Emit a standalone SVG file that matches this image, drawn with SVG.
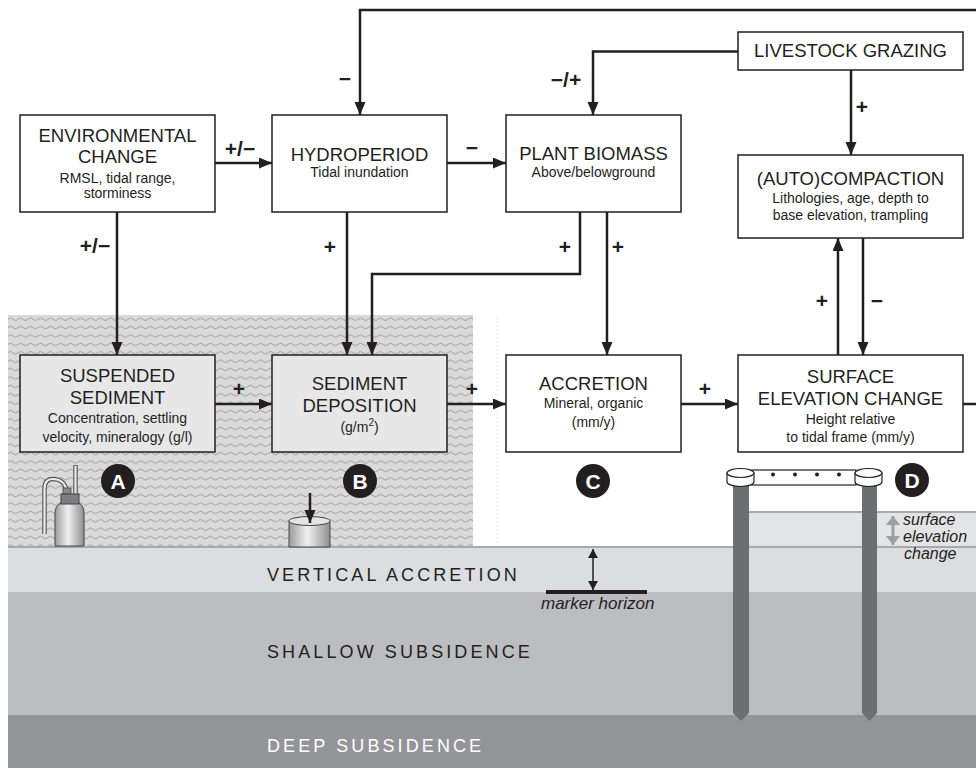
<svg xmlns="http://www.w3.org/2000/svg" width="976" height="768" viewBox="0 0 976 768">
  <defs>
    <style>
      .box { fill: #ffffff; stroke: #231f20; stroke-width: 1.5; }
      .wbox { fill: #e7e7e8; stroke: #231f20; stroke-width: 1.5; }
      .t { font-family: "Liberation Sans", Arial, sans-serif; font-size: 18.5px; fill: #231f20; text-anchor: middle; }
      .s { font-size: 14px; }
      .sign { font-family: "Liberation Sans", Arial, sans-serif; font-weight: bold; font-size: 21px; fill: #231f20; text-anchor: middle; }
      .conn { fill: none; stroke: #231f20; stroke-width: 2.5; }
      .layer { font-family: "Liberation Sans", Arial, sans-serif; font-size: 18px; letter-spacing: 3.1px; }
      .it { font-family: "Liberation Sans", Arial, sans-serif; font-style: italic; font-size: 17px; fill: #231f20; }
      .it2 { font-size: 16px; }
      .badge { fill: #231f20; }
      .badgeT { font-family: "Liberation Sans", Arial, sans-serif; font-weight: bold; font-size: 21px; fill: #ffffff; text-anchor: middle; }
    </style>
    <marker id="arr" markerUnits="userSpaceOnUse" markerWidth="14" markerHeight="12" refX="13" refY="5.5" orient="auto">
      <path d="M0,0 L13,5.5 L0,11 z" fill="#231f20"/>
    </marker>
    <marker id="arrS" markerUnits="userSpaceOnUse" markerWidth="11" markerHeight="10" refX="9" refY="5" orient="auto-start-reverse">
      <path d="M0,0 L9,5 L0,10 z" fill="#231f20"/>
    </marker>
    <marker id="arrG" markerUnits="userSpaceOnUse" markerWidth="10" markerHeight="15" refX="9" refY="7" orient="auto-start-reverse">
      <path d="M0,0 L9,7 L0,14 z" fill="#9d9fa2"/>
    </marker>
    <pattern id="waves" patternUnits="userSpaceOnUse" x="8" y="315" width="10" height="8.4">
      <rect width="10" height="8.4" fill="#dadadb"/>
      <path d="M0,4.2 q2.5,-2.6 5,0 t5,0" fill="none" stroke="#939395" stroke-width="0.9"/>
    </pattern>
    <linearGradient id="metal" x1="0" y1="0" x2="1" y2="0">
      <stop offset="0" stop-color="#9c9c9e"/>
      <stop offset="0.45" stop-color="#f0f0f0"/>
      <stop offset="1" stop-color="#8e8e90"/>
    </linearGradient>
  </defs>

  <!-- ground layers -->
  <g id="ground">
    <rect x="8" y="315" width="465" height="232" fill="url(#waves)"/>
    <line x1="497" y1="318" x2="497" y2="546" stroke="#d6d6d6" stroke-width="1" stroke-dasharray="1 3"/>
    <rect x="749" y="512" width="227" height="35" fill="#e3e4e5"/>
    <line x1="749" y1="512" x2="976" y2="512" stroke="#a7a9ac" stroke-width="2"/>
    <rect x="8" y="548" width="968" height="44" fill="#dcdddf"/>
    <rect x="8" y="592" width="968" height="123" fill="#bcbdc0"/>
    <rect x="8" y="715" width="968" height="53" fill="#939598"/>
    <line x1="8" y1="547" x2="976" y2="547" stroke="#a7a9ac" stroke-width="2"/>
    <text class="layer" x="267" y="581" fill="#231f20">VERTICAL ACCRETION</text>
    <text class="layer" x="267" y="658" fill="#231f20">SHALLOW SUBSIDENCE</text>
    <text class="layer" x="267" y="752" fill="#ffffff">DEEP SUBSIDENCE</text>
  </g>

  <!-- marker horizon -->
  <g id="marker-horizon">
    <line x1="546" y1="592" x2="647" y2="592" stroke="#231f20" stroke-width="4"/>
    <line x1="593" y1="549" x2="593" y2="590" stroke="#231f20" stroke-width="1.5" marker-start="url(#arrS)" marker-end="url(#arrS)"/>
    <text class="it" x="541" y="609">marker horizon</text>
  </g>

  <!-- connectors -->
  <g id="connectors">
    <path class="conn" d="M976,10 H360 V115" marker-end="url(#arr)"/>
    <path class="conn" d="M215,163 H272" marker-end="url(#arr)"/>
    <path class="conn" d="M447,163 H506" marker-end="url(#arr)"/>
    <path class="conn" d="M738,51.5 H593 V115" marker-end="url(#arr)"/>
    <path class="conn" d="M851,70 V155" marker-end="url(#arr)"/>
    <path class="conn" d="M117,212 V355" marker-end="url(#arr)"/>
    <path class="conn" d="M347,212 V355" marker-end="url(#arr)"/>
    <path class="conn" d="M580,212 V274 H372 V355" marker-end="url(#arr)"/>
    <path class="conn" d="M607,212 V355" marker-end="url(#arr)"/>
    <path class="conn" d="M215,404 H272" marker-end="url(#arr)"/>
    <path class="conn" d="M447,404 H506" marker-end="url(#arr)"/>
    <path class="conn" d="M681,404 H738" marker-end="url(#arr)"/>
    <path class="conn" d="M838,355 V238" marker-end="url(#arr)"/>
    <path class="conn" d="M863,238 V355" marker-end="url(#arr)"/>
    <path class="conn" d="M963,404 H976"/>

    <text class="sign" x="345" y="86">−</text>
    <text class="sign" x="566" y="87">−/+</text>
    <text class="sign" x="862" y="114">+</text>
    <text class="sign" x="240" y="156">+/−</text>
    <text class="sign" x="472" y="155">−</text>
    <text class="sign" x="95" y="253">+/−</text>
    <text class="sign" x="330" y="254">+</text>
    <text class="sign" x="565" y="254">+</text>
    <text class="sign" x="618" y="254">+</text>
    <text class="sign" x="239" y="396">+</text>
    <text class="sign" x="472" y="396">+</text>
    <text class="sign" x="705" y="396">+</text>
    <text class="sign" x="822" y="308">+</text>
    <text class="sign" x="877" y="308">−</text>
  </g>

  <!-- nodes -->
  <g id="environmental-change">
    <rect class="box" x="20" y="115" width="195" height="97"/>
    <text class="t" x="117.5" y="142">ENVIRONMENTAL</text>
    <text class="t" x="117.5" y="163">CHANGE</text>
    <text class="t s" x="117.5" y="183">RMSL, tidal range,</text>
    <text class="t s" x="117.5" y="198">storminess</text>
  </g>

  <g id="hydroperiod">
    <rect class="box" x="272" y="115" width="175" height="97"/>
    <text class="t" x="359.5" y="161">HYDROPERIOD</text>
    <text class="t s" x="359.5" y="177">Tidal inundation</text>
  </g>

  <g id="plant-biomass">
    <rect class="box" x="506" y="115" width="175" height="97"/>
    <text class="t" x="593.5" y="160">PLANT BIOMASS</text>
    <text class="t s" x="593.5" y="177">Above/belowground</text>
  </g>

  <g id="livestock-grazing">
    <rect class="box" x="738" y="32" width="225" height="38"/>
    <text class="t" x="850.5" y="57">LIVESTOCK GRAZING</text>
  </g>

  <g id="autocompaction">
    <rect class="box" x="738" y="155" width="225" height="83"/>
    <text class="t" x="850.5" y="185">(AUTO)COMPACTION</text>
    <text class="t s" x="850.5" y="203">Lithologies, age, depth to</text>
    <text class="t s" x="850.5" y="220">base elevation, trampling</text>
  </g>

  <g id="suspended-sediment">
    <rect class="wbox" x="20" y="355" width="195" height="97"/>
    <text class="t" x="117.5" y="382">SUSPENDED</text>
    <text class="t" x="117.5" y="404">SEDIMENT</text>
    <text class="t s" x="117.5" y="423">Concentration, settling</text>
    <text class="t s" x="117.5" y="442">velocity, mineralogy (g/l)</text>
  </g>

  <g id="sediment-deposition">
    <rect class="wbox" x="272" y="355" width="175" height="97"/>
    <text class="t" x="359.5" y="390">SEDIMENT</text>
    <text class="t" x="359.5" y="412">DEPOSITION</text>
    <text class="t s" x="359.5" y="432">(g/m<tspan font-size="10" dy="-6">2</tspan><tspan dy="6">)</tspan></text>
  </g>

  <g id="accretion">
    <rect class="box" x="506" y="355" width="175" height="97"/>
    <text class="t" x="593.5" y="390">ACCRETION</text>
    <text class="t s" x="593.5" y="408">Mineral, organic</text>
    <text class="t s" x="593.5" y="427">(mm/y)</text>
  </g>

  <g id="surface-elevation-change">
    <rect class="box" x="738" y="355" width="225" height="97"/>
    <text class="t" x="850.5" y="383">SURFACE</text>
    <text class="t" x="850.5" y="405">ELEVATION CHANGE</text>
    <text class="t s" x="850.5" y="424">Height relative</text>
    <text class="t s" x="850.5" y="442">to tidal frame (mm/y)</text>
  </g>

  <!-- A: water sampling bottle -->
  <g id="bottle-sampler">
    <path d="M66,491 C66,483 60,479 53,479 C47,479 44.5,483 44.5,489 V534" fill="none" stroke="#555" stroke-width="4.5"/>
    <path d="M66,491 C66,483 60,479 53,479 C47,479 44.5,483 44.5,489 V534" fill="none" stroke="#ececec" stroke-width="2.2"/>
    <line x1="75.5" y1="465" x2="75.5" y2="494" stroke="#555" stroke-width="4.5"/>
    <line x1="75.5" y1="465.8" x2="75.5" y2="494" stroke="#ececec" stroke-width="2.2"/>
    <path d="M55,546 V513 Q55,506 61,503 H79 Q84,506 84,513 V546 Z" fill="url(#metal)" stroke="#444" stroke-width="1"/>
    <rect x="63" y="488" width="8" height="6" fill="#8a8a8c" stroke="#444" stroke-width="0.8"/>
    <rect x="61" y="494" width="18" height="10" fill="#7e7e80" stroke="#444" stroke-width="1"/>
  </g>

  <!-- B: sediment trap -->
  <g id="sediment-trap">
    <path d="M289,521 V547 H330 V521" fill="url(#metal)" stroke="#444" stroke-width="1"/>
    <ellipse cx="309.5" cy="521" rx="20.5" ry="4.5" fill="#e4e4e4" stroke="#444" stroke-width="1"/>
    <line x1="310" y1="493" x2="310" y2="523" stroke="#231f20" stroke-width="2.5" marker-end="url(#arr)"/>
  </g>

  <!-- D: surface elevation table -->
  <g id="set-device">
    <polygon points="733,484 749,484 749,713 741,721 733,713" fill="#6d6e71"/>
    <polygon points="862,484 877,484 877,713 869.5,721 862,713" fill="#6d6e71"/>
    <rect x="752" y="470" width="104" height="15" fill="#ffffff" stroke="#231f20" stroke-width="1.2"/>
    <circle cx="773" cy="474.5" r="2" fill="#231f20"/>
    <circle cx="795" cy="474.5" r="2" fill="#231f20"/>
    <circle cx="817" cy="474.5" r="2" fill="#231f20"/>
    <circle cx="839" cy="474.5" r="2" fill="#231f20"/>
    <path d="M727,473 V482 A13.5,4.5 0 0 0 754,482 V473" fill="#ffffff" stroke="#231f20" stroke-width="1.2"/>
    <ellipse cx="740.5" cy="473" rx="13.5" ry="4.5" fill="#ffffff" stroke="#231f20" stroke-width="1.2"/>
    <path d="M855,473 V482 A13.5,4.5 0 0 0 882,482 V473" fill="#ffffff" stroke="#231f20" stroke-width="1.2"/>
    <ellipse cx="868.5" cy="473" rx="13.5" ry="4.5" fill="#ffffff" stroke="#231f20" stroke-width="1.2"/>
    <line x1="893" y1="516" x2="893" y2="545" stroke="#9d9fa2" stroke-width="3" marker-start="url(#arrG)" marker-end="url(#arrG)"/>
    <text class="it it2" x="903" y="525">surface</text>
    <text class="it it2" x="903" y="542">elevation</text>
    <text class="it it2" x="904" y="559">change</text>
  </g>

  <!-- measurement badges -->
  <g id="badge-a">
    <circle class="badge" cx="118" cy="481" r="17"/>
    <text class="badgeT" x="118" y="488.5">A</text>
  </g>
  <g id="badge-b">
    <circle class="badge" cx="360" cy="481" r="17"/>
    <text class="badgeT" x="360" y="488.5">B</text>
  </g>
  <g id="badge-c">
    <circle class="badge" cx="593" cy="481" r="17"/>
    <text class="badgeT" x="593" y="488.5">C</text>
  </g>
  <g id="badge-d">
    <circle class="badge" cx="912" cy="480" r="17"/>
    <text class="badgeT" x="912" y="487.5">D</text>
  </g>
</svg>
